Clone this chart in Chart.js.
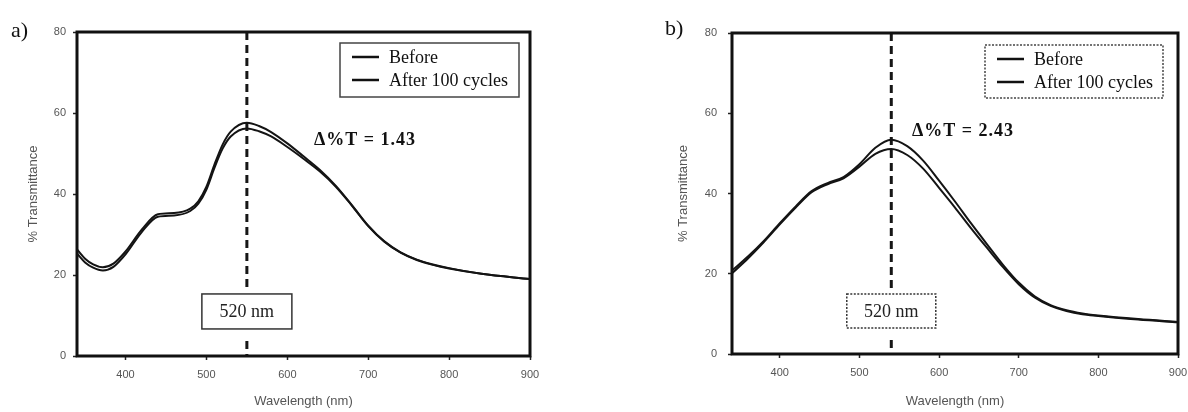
<!DOCTYPE html>
<html>
<head>
<meta charset="utf-8">
<title>Transmittance before / after cycling</title>
<script src="https://cdn.jsdelivr.net/npm/chart.js@4.4.1/dist/chart.umd.min.js"></script>
<style>
  body { margin: 0; background: #fff; }
  #wrap { position: relative; width: 1188px; height: 412px; overflow: hidden; }
  canvas { position: absolute; top: 0; }
  .tag { position: absolute; font: 22px "Liberation Serif", serif; color: #111; line-height: 1; }
</style>
</head>
<body>
<div id="wrap">
  <canvas id="chartA" width="594" height="412" style="left:0"></canvas>
  <canvas id="chartB" width="594" height="412" style="left:594px"></canvas>
  <div class="tag" style="left:11px;top:19px">a)</div>
  <div class="tag" style="left:665px;top:17px">b)</div>
</div>
<script>
'use strict';

// ---- data ----
var SERIES_LABELS = ['Before', 'After 100 cycles'];
var X_TICKS = [400, 500, 600, 700, 800, 900];
var Y_TICKS = [0, 20, 40, 60, 80];

// panel a
var WAVE_A   = [340, 350, 360, 372, 385, 400, 420, 440, 460, 480, 490, 500, 510, 520, 530, 550, 565, 580, 600, 620, 640, 660, 680, 700, 720, 740, 760, 780, 800, 840, 900];
var BEFORE_A = [26.3, 24.0, 22.6, 21.9, 22.8, 25.8, 31.2, 35.0, 35.3, 36.4, 38.2, 41.8, 47.3, 52.2, 55.4, 57.6, 56.8, 55.3, 52.5, 49.3, 46.0, 42.0, 37.2, 32.2, 28.3, 25.6, 23.8, 22.6, 21.7, 20.3, 19.0];
var AFTER_A  = [25.3, 23.1, 21.8, 21.1, 22.0, 25.1, 30.6, 34.4, 34.7, 35.8, 37.6, 41.1, 46.5, 51.2, 54.2, 56.2, 55.5, 54.2, 51.6, 48.7, 45.6, 41.8, 37.1, 32.1, 28.2, 25.5, 23.7, 22.5, 21.6, 20.3, 19.0];
var MARK_A = 550;
var DELTA_A = '\u0394%T = 1.43';

// panel b
var WAVE_B   = [340, 360, 380, 400, 420, 440, 460, 480, 500, 520, 540, 560, 580, 600, 620, 640, 660, 680, 700, 720, 740, 760, 780, 800, 850, 900];
var BEFORE_B = [20.8, 24.3, 28.2, 32.6, 36.8, 40.6, 42.6, 44.1, 47.3, 51.4, 53.4, 51.8, 48.2, 43.2, 38.0, 32.6, 27.4, 22.3, 17.8, 14.4, 12.2, 10.9, 10.1, 9.6, 8.7, 8.0];
var AFTER_B  = [20.1, 23.8, 27.9, 32.3, 36.5, 40.3, 42.3, 43.8, 46.7, 49.9, 51.1, 49.6, 46.2, 41.4, 36.5, 31.4, 26.5, 21.7, 17.4, 14.1, 12.0, 10.7, 9.9, 9.5, 8.6, 7.9];
var MARK_B = 540;
var DELTA_B = '\u0394%T = 2.43';

var MARK_LABEL = '520 nm';

// ---- helpers ----
function pts(xs, ys) {
  return xs.map(function (x, i) { return { x: x, y: ys[i] }; });
}

function fixedTicks(list) {
  return function (scale) {
    scale.ticks = list.map(function (v) { return { value: v }; });
  };
}

// draws the frame, the marker line + box, the legend and the delta note
var panelPlugin = {
  id: 'panel',
  beforeDatasetsDraw: function (chart, args, o) {
    var ctx = chart.ctx, a = chart.chartArea;
    var mx = chart.scales.x.getPixelForValue(o.marker);
    var cy = chart.scales.y.getPixelForValue(o.boxY);
    ctx.save();
    ctx.strokeStyle = '#161616';
    ctx.lineWidth = 3;
    ctx.setLineDash([8, 5]);
    ctx.beginPath();
    ctx.moveTo(mx, a.top);
    ctx.lineTo(mx, cy - o.boxH / 2 - 6);
    ctx.moveTo(mx, cy + o.boxH / 2 + 12);
    ctx.lineTo(mx, a.bottom);
    ctx.stroke();
    ctx.restore();
  },
  afterDatasetsDraw: function (chart, args, o) {
    var ctx = chart.ctx, a = chart.chartArea;
    var sx = chart.scales.x, sy = chart.scales.y;
    ctx.save();

    // frame
    ctx.strokeStyle = '#111';
    ctx.lineWidth = 3;
    ctx.setLineDash([]);
    ctx.strokeRect(a.left, a.top, a.right - a.left, a.bottom - a.top);

    // marker label box
    var mx = sx.getPixelForValue(o.marker);
    var cy = sy.getPixelForValue(o.boxY);
    ctx.lineWidth = 1.5;
    ctx.strokeStyle = '#333';
    ctx.setLineDash(o.dotted ? [2, 1.5] : []);
    ctx.strokeRect(mx - o.boxW / 2, cy - o.boxH / 2, o.boxW, o.boxH);
    ctx.setLineDash([]);
    ctx.fillStyle = '#222';
    ctx.font = '18px "Liberation Serif", serif';
    ctx.textAlign = 'center';
    ctx.textBaseline = 'middle';
    ctx.fillText(MARK_LABEL, mx, cy + 1);

    // legend
    var lx = a.right - o.legRight - o.legW, ly = a.top + o.legTop;
    ctx.lineWidth = 1.5;
    ctx.strokeStyle = '#444';
    ctx.setLineDash(o.dotted ? [2, 1.5] : []);
    ctx.strokeRect(lx, ly, o.legW, o.legH);
    ctx.setLineDash([]);
    ctx.textAlign = 'left';
    ctx.font = '18px "Liberation Serif", serif';
    chart.data.datasets.forEach(function (ds, i) {
      var y = ly + 14 + i * 23;
      ctx.strokeStyle = '#111';
      ctx.lineWidth = 2.5;
      ctx.beginPath();
      ctx.moveTo(lx + 12, y);
      ctx.lineTo(lx + 39, y);
      ctx.stroke();
      ctx.fillStyle = '#111';
      ctx.fillText(ds.label, lx + 49, y + 1);
    });

    // delta note
    ctx.font = 'bold 18px "Liberation Serif", serif';
    ctx.letterSpacing = '1px';
    ctx.fillText(o.delta, sx.getPixelForValue(o.noteX), sy.getPixelForValue(o.noteY));
    ctx.restore();
  }
};

function lineDs(label, xs, ys) {
  return {
    label: label,
    data: pts(xs, ys),
    borderColor: '#141414',
    borderWidth: 2,
    pointRadius: 0,
    fill: false,
    cubicInterpolationMode: 'monotone'
  };
}

function panelCfg(p) {
  var tickFont = { family: '"Liberation Sans", Arial, sans-serif', size: 11 };
  var titleFont = { family: '"Liberation Sans", Arial, sans-serif', size: 13 };
  return {
    type: 'line',
    data: {
      datasets: [
        lineDs(SERIES_LABELS[0], p.wave, p.before),
        lineDs(SERIES_LABELS[1], p.wave, p.after)
      ]
    },
    options: {
      responsive: false,
      animation: false,
      events: [],
      layout: { padding: { left: p.padLeft, top: p.padTop, right: p.padRight, bottom: 0 } },
      plugins: {
        legend: { display: false },
        tooltip: { enabled: false },
        panel: p.panel
      },
      scales: {
        x: {
          type: 'linear',
          min: 340,
          max: 900,
          afterBuildTicks: fixedTicks(X_TICKS),
          afterFit: function (s) { s.height = p.xAxisH; s.paddingLeft = 0; s.paddingRight = 0; },
          border: { display: false },
          grid: { drawOnChartArea: false, drawTicks: true, tickLength: 4, tickColor: '#222', tickWidth: 1.5 },
          ticks: { color: '#555', font: tickFont, padding: 8, maxRotation: 0 },
          title: { display: true, text: 'Wavelength (nm)', color: '#555', font: titleFont, padding: { top: 0, bottom: 3 } }
        },
        y: {
          min: 0,
          max: 80,
          afterBuildTicks: fixedTicks(Y_TICKS),
          afterFit: function (s) { s.width = p.yAxisW; s.paddingTop = 0; s.paddingBottom = 0; },
          border: { display: false },
          grid: { drawOnChartArea: false, drawTicks: true, tickLength: 4, tickColor: '#222', tickWidth: 1.5 },
          ticks: { color: '#555', font: tickFont, padding: p.yTickPad },
          title: { display: true, text: '% Transmittance', color: '#555', font: titleFont, padding: { top: p.yTitlePad, bottom: 0 } }
        }
      }
    },
    plugins: [panelPlugin]
  };
}

new Chart(document.getElementById('chartA'), panelCfg({
  wave: WAVE_A, before: BEFORE_A, after: AFTER_A,
  padLeft: 0, padTop: 32, padRight: 64,
  yAxisW: 77, xAxisH: 56, yTickPad: 7, yTitlePad: 26,
  panel: {
    marker: MARK_A, boxY: 11, boxW: 90, boxH: 35, dotted: false,
    legRight: 11, legTop: 11, legW: 179, legH: 54,
    delta: DELTA_A, noteX: 633, noteY: 53.3
  }
}));

new Chart(document.getElementById('chartB'), panelCfg({
  wave: WAVE_B, before: BEFORE_B, after: AFTER_B,
  padLeft: 60, padTop: 33, padRight: 10,
  yAxisW: 78, xAxisH: 58, yTickPad: 11, yTitlePad: 22,
  panel: {
    marker: MARK_B, boxY: 10.7, boxW: 89, boxH: 34, dotted: true,
    legRight: 15, legTop: 12, legW: 178, legH: 53,
    delta: DELTA_B, noteX: 566, noteY: 55.4
  }
}));
</script>
</body>
</html>
